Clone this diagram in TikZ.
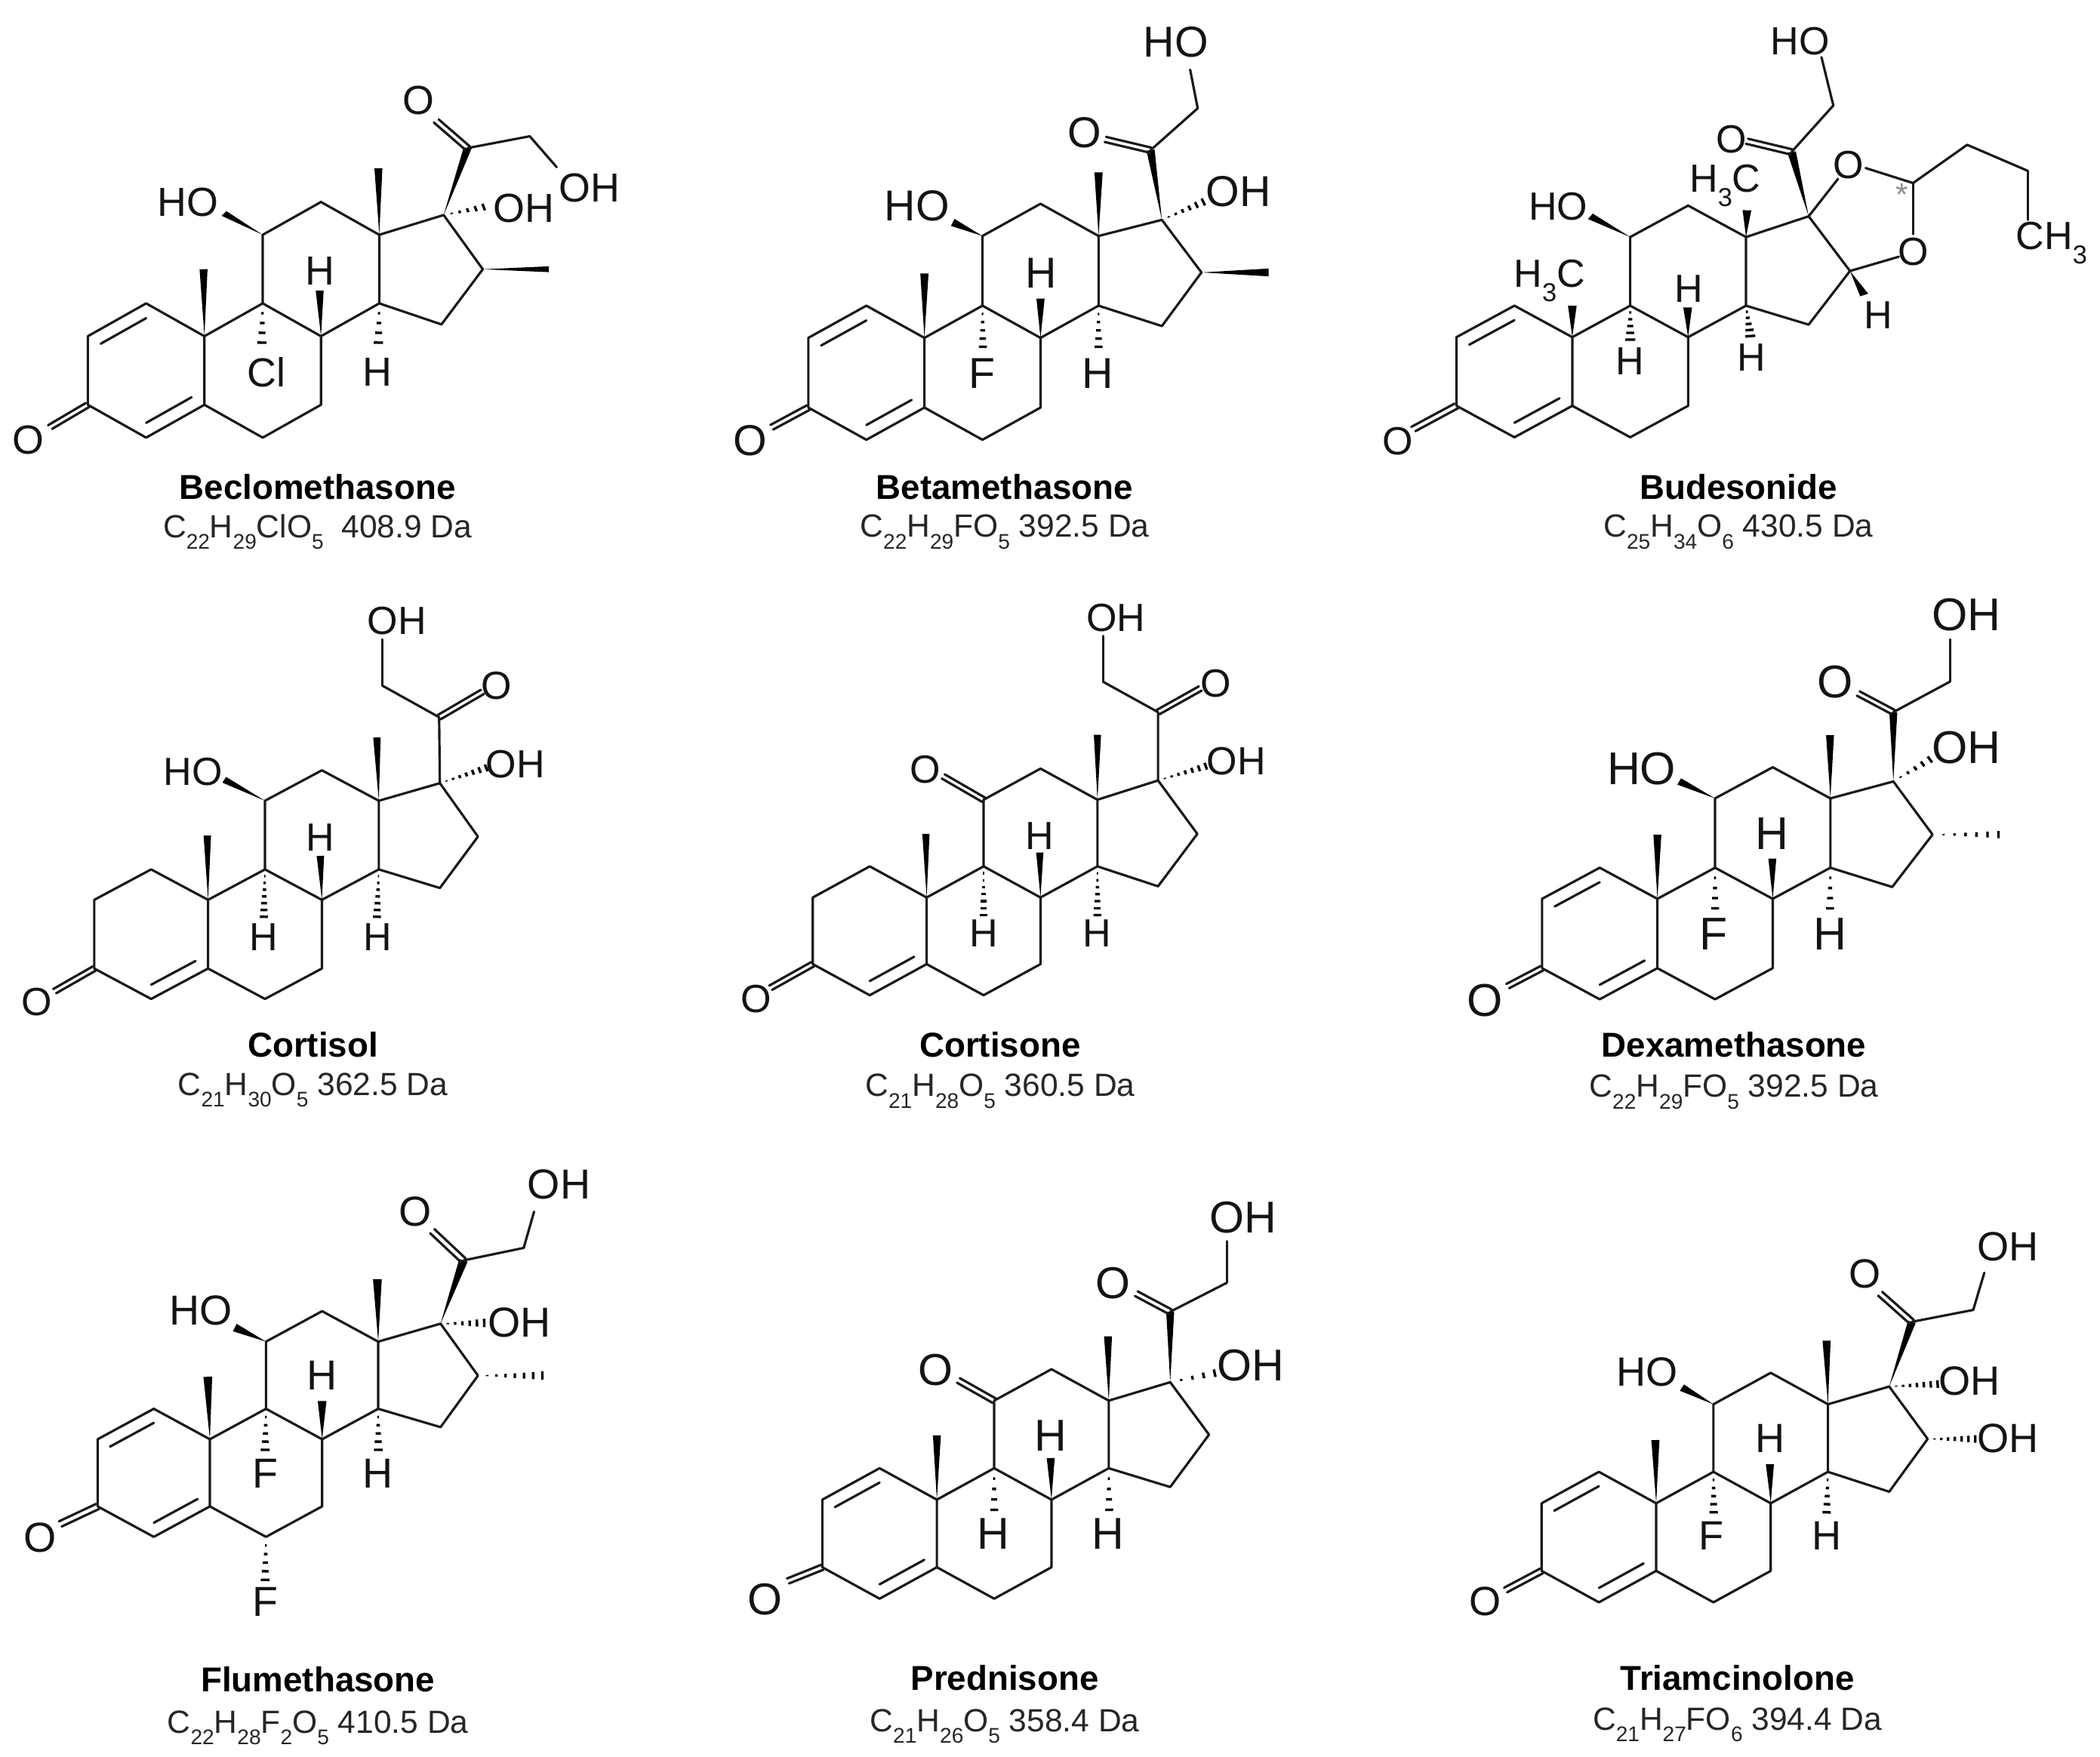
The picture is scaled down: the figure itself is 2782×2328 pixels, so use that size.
\documentclass[tikz,border=0pt]{standalone}
\usepackage{fontspec}
\setmainfont{Liberation Sans}
\usetikzlibrary{calc}
\def\lfs{15}
\def\wh{2.8pt}
\def\hw{3}
\newcommand\sbs[1]{\raisebox{-0.36em}{\scalebox{0.66}{#1}}}
\tikzset{
  mol/.style n args={4}{shift={(#1,#2)},xscale=#3/1562,yscale=#4/1562},
  bond/.style={line width=0.9pt,line join=round,line cap=round,draw=black!90},
  hashline/.style={line width=0.95pt,draw=black},
  atom/.style={inner sep=0pt,text=black!92,font=\fontsize{\lfs}{\lfs}\selectfont},
  title/.style={inner sep=0pt,yshift=1pt,text=black,font=\fontsize{13}{13}\selectfont\bfseries},
  formula/.style={inner sep=0pt,yshift=-1pt,text=black!85,font=\fontsize{12.1}{12.1}\selectfont},
}
\newcommand\lab[3]{\node[atom] (#1) at (#2) {#3};}
\newcommand\rings[5]{%
  \coordinate (C10) at (#1,#2);
  \coordinate (C5) at (#1,{#2+#4});
  \coordinate (C1) at ({#1-#3},{#2-#5});
  \coordinate (C2) at ({#1-2*#3},#2);
  \coordinate (C3) at ({#1-2*#3},{#2+#4});
  \coordinate (C4) at ({#1-#3},{#2+#4+#5});
  \coordinate (C6) at ({#1+#3},{#2+#4+#5});
  \coordinate (C7) at ({#1+2*#3},{#2+#4});
  \coordinate (C8) at ({#1+2*#3},#2);
  \coordinate (C9) at ({#1+#3},{#2-#5});
  \coordinate (C11) at ({#1+#3},{#2-#5-#4});
  \coordinate (C12) at ({#1+2*#3},{#2-2*#5-#4});
  \coordinate (C13) at ({#1+3*#3},{#2-#5-#4});
  \coordinate (C14) at ({#1+3*#3},{#2-#5});
  \coordinate (RA) at ({#1-#3},{#2+0.5*#4});
  \draw[bond] (C10)--(C1)--(C2)--(C3)--(C4)--(C5)--cycle;
  \draw[bond] (C5)--(C6)--(C7)--(C8)--(C9)--(C10);
  \draw[bond] (C9)--(C11)--(C12)--(C13)--(C14)--(C8);
  \draw[bond] ($(C4)!0.22!(RA)$)--($(C5)!0.22!(RA)$);
}
\newcommand\dienc{\draw[bond] ($(C2)!0.22!(RA)$)--($(C1)!0.22!(RA)$);}
\newcommand\dring[3]{%
  \coordinate (C15) at (#1);\coordinate (C16) at (#2);\coordinate (C17) at (#3);
  \draw[bond] (C14)--(C15)--(C16)--(C17)--(C13);
}
\newcommand\bnd[2]{\coordinate (bd) at (#2);\draw[bond] (#1)--(bd);}
\newcommand\wdg[2]{\coordinate (tip) at (#2);
  \fill[black] (#1)--($(tip)!\wh!90:(#1)$)--($(tip)!\wh!-90:(#1)$)--cycle;}
\newcommand\hsh[3]{\coordinate (hend) at (#2);
  \foreach \i in {1,...,#3}{
    \pgfmathsetmacro\hT{\i/#3}
    \pgfmathsetmacro\hW{\hw*\hT}
    \coordinate (hp) at ($(#1)!\hT!(hend)$);
    \draw[hashline] ($(hp)!\hW pt!90:(#1)$)--($(hp)!\hW pt!-90:(#1)$);
  }}
\newcommand\cdo[2]{\coordinate (oe) at (#2);
  \draw[bond] ($(#1)!2.1pt!90:(oe)$)--($(oe)!2.1pt!-90:(#1)$);
  \draw[bond] ($(#1)!2.1pt!-90:(oe)$)--($(oe)!2.1pt!90:(#1)$);}
\begin{document}
\begin{tikzpicture}[x=0.01cm,y=-0.01cm]
\useasboundingbox (0,0) rectangle (2782,2328);
% Beclomethasone
\begin{scope}[mol={0}{80}{900}{660}]
\def\lfs{15.3}\def\wh{2.6pt}
\rings{470}{865}{134}{215}{103}\dienc
\dring{1015,828}{1110,655}{1020,485}
\coordinate (C20) at (1075,275);\coordinate (C21) at (1218,238);
\wdg{C17}{C20}
\cdo{C20}{1003,190}
\draw[bond] (C20)--(C21);
\bnd{C21}{1280,335}
\hsh{C17}{1112,460}{5}
\wdg{C11}{515,480}\wdg{C13}{870,338}\wdg{C10}{468,655}\wdg{C16}{1262,655}\wdg{C8}{735,722}
\hsh{C9}{602,885}{4}\hsh{C14}{870,885}{4}
\cdo{C3}{115,1150}
\lab{o20}{962,125}{O}\lab{oh21}{1355,400}{OH}\lab{oh17}{1205,465}{OH}\lab{ho11}{432,445}{HO}
\lab{h8}{735,660}{H}\lab{cl9}{612,978}{Cl}\lab{h14}{868,978}{H}\lab{o3}{65,1190}{O}
\node[title] (n1) at (730,1345) {Beclomethasone};
\node[formula] (f1) at (730,1470) {C\sbs{22}H\sbs{29}ClO\sbs{5}\ \ 408.9 Da};
\end{scope}
% Betamethasone
\begin{scope}[mol={940}{0}{780}{740}]
\def\lfs{16.3}\def\wh{3.1pt}
\rings{570}{945}{154}{195}{90}\dienc
\dring{1200,912}{1305,762}{1200,615}
\coordinate (C20) at (1170,420);\coordinate (C21) at (1295,303);
\wdg{C17}{C20}
\cdo{C20}{1050,390}
\draw[bond] (C20)--(C21);
\bnd{C21}{1275,195}
\hsh{C17}{1310,565}{6}
\wdg{C11}{645,622}\wdg{C13}{1032,482}\wdg{C10}{570,765}\wdg{C16}{1483,762}\wdg{C8}{878,835}
\hsh{C9}{725,970}{5}\hsh{C14}{1032,970}{5}
\cdo{C3}{165,1195}
\lab{o20}{995,370}{O}\lab{ho21}{1237,118}{HO}\lab{oh17}{1403,535}{OH}\lab{ho11}{550,575}{HO}
\lab{h8}{880,763}{H}\lab{f9}{722,1045}{F}\lab{h14}{1030,1045}{H}\lab{o3}{108,1232}{O}
\node[title] (n2) at (783,1370) {Betamethasone};
\node[formula] (f2) at (783,1480) {C\sbs{22}H\sbs{29}FO\sbs{5} 392.5 Da};
\end{scope}
% Budesonide
\begin{scope}[mol={1800}{0}{982}{740}]
\def\lfs{14.8}\def\wh{2.6pt}
\rings{450}{943}{122}{192}{88}\dienc
\dring{948,908}{1035,758}{948,605}
\coordinate (C20) at (912,425);\coordinate (C21) at (1000,295);
\coordinate (Cq) at (1168,512);\coordinate (Cb) at (1282,405);\coordinate (Cc) at (1410,478);
\wdg{C17}{C20}
\cdo{C20}{818,395}
\draw[bond] (C20)--(C21);
\bnd{C21}{975,160}
\bnd{C17}{1010,500}
\bnd{Cq}{1068,470}
\bnd{Cq}{1168,655}
\coordinate (o16e) at (1138,718);\draw[bond] (C16)--(o16e);
\draw[bond] (Cq)--(Cb)--(Cc);
\bnd{Cc}{1410,615}
\wdg{C11}{488,605}\wdg{C13}{818,588}\wdg{C10}{450,855}\wdg{C8}{693,860}\wdg{C16}{1065,825}
\hsh{C9}{572,950}{5}\hsh{C14}{825,940}{5}
\cdo{C3}{115,1200}
\lab{o20}{785,390}{O}\lab{ho21}{930,115}{HO}\lab{o17}{1032,462}{O}\lab{o16}{1168,705}{O}
\lab{ch3}{1460,680}{CH\sbs{3}}\lab{ho11}{420,577}{HO}\lab{me13}{772,520}{H\sbs{3}C}\lab{me10}{402,785}{H\sbs{3}C}
\lab{h8}{695,808}{H}\lab{h9}{572,1010}{H}\lab{h14}{828,1000}{H}\lab{h16}{1095,882}{H}\lab{o3}{82,1235}{O}
\node[inner sep=0pt,text=black!45,font=\fontsize{12}{12}\selectfont] (star) at (1145,545) {*};
\node[title] (n3) at (800,1370) {Budesonide};
\node[formula] (f3) at (800,1480) {C\sbs{25}H\sbs{34}O\sbs{6} 430.5 Da};
\end{scope}
% Cortisol
\begin{scope}[mol={0}{780}{780}{700}]
\def\lfs{14.8}\def\wh{2.8pt}
\rings{552}{920}{151}{203}{90}
\dring{1167,885}{1268,733}{1167,575}
\coordinate (C20) at (1165,380);\coordinate (C21) at (1015,287);
\draw[bond] (C17)--(C20)--(C21);
\cdo{C20}{1280,305}
\bnd{C21}{1015,150}
\hsh{C17}{1290,530}{7}
\wdg{C11}{595,565}\wdg{C13}{1000,440}\wdg{C10}{550,730}\wdg{C8}{850,790}
\hsh{C9}{700,970}{7}\hsh{C14}{1000,970}{7}
\cdo{C3}{145,1190}
\lab{o20}{1317,288}{O}\lab{oh21}{1053,95}{OH}\lab{oh17}{1367,520}{OH}\lab{ho11}{512,542}{HO}
\lab{h8}{850,735}{H}\lab{h9}{700,1030}{H}\lab{h14}{1002,1030}{H}\lab{o3}{98,1222}{O}
\node[title] (n4) at (830,1355) {Cortisol};
\node[formula] (f4) at (830,1475) {C\sbs{21}H\sbs{30}O\sbs{5} 362.5 Da};
\end{scope}
% Cortisone
\begin{scope}[mol={960}{780}{760}{700}]
\def\lfs{14.8}\def\wh{2.8pt}
\rings{550}{913}{155}{197}{92}
\dring{1180,880}{1287,725}{1180,567}
\coordinate (C20) at (1180,365);\coordinate (C21) at (1030,275);
\draw[bond] (C17)--(C20)--(C21);
\cdo{C20}{1295,295}
\bnd{C21}{1030,140}
\hsh{C17}{1310,525}{7}
\wdg{C13}{1015,432}\wdg{C10}{548,725}\wdg{C8}{858,780}
\cdo{C11}{595,555}
\hsh{C9}{705,965}{7}\hsh{C14}{1015,965}{7}
\cdo{C3}{125,1180}
\lab{o20}{1337,280}{O}\lab{oh21}{1065,85}{OH}\lab{oh17}{1393,510}{OH}\lab{o11}{547,535}{O}
\lab{h8}{858,730}{H}\lab{h9}{705,1018}{H}\lab{h14}{1013,1018}{H}\lab{o3}{85,1212}{O}
\node[title] (n5) at (750,1355) {Cortisone};
\node[formula] (f5) at (750,1478) {C\sbs{21}H\sbs{28}O\sbs{5} 360.5 Da};
\end{scope}
% Dexamethasone
\begin{scope}[mol={1900}{780}{780}{700}]
\def\lfs{17.3}\def\wh{3pt}
\rings{592}{917}{153}{205}{92}\dienc
\dring{1215,882}{1322,727}{1218,570}
\coordinate (C20) at (1218,365);\coordinate (C21) at (1368,275);
\wdg{C17}{C20}
\cdo{C20}{1125,310}
\draw[bond] (C20)--(C21);
\bnd{C21}{1368,150}
\hsh{C17}{1315,505}{5}\hsh{C16}{1497,727}{6}
\wdg{C11}{650,570}\wdg{C13}{1050,433}\wdg{C10}{592,727}\wdg{C8}{897,798}
\hsh{C9}{745,945}{4}\hsh{C14}{1050,945}{4}
\cdo{C3}{195,1175}
\lab{o20}{1063,275}{O}\lab{oh21}{1412,78}{OH}\lab{oh17}{1412,470}{OH}\lab{ho11}{550,532}{HO}
\lab{h8}{897,725}{H}\lab{f9}{742,1022}{F}\lab{h14}{1050,1022}{H}\lab{o3}{135,1218}{O}
\node[title] (n6) at (795,1355) {Dexamethasone};
\node[formula] (f6) at (795,1480) {C\sbs{22}H\sbs{29}FO\sbs{5} 392.5 Da};
\end{scope}
% Flumethasone
\begin{scope}[mol={0}{1520}{860}{808}]
\def\lfs{15.8}\def\wh{3pt}
\rings{505}{748}{135}{172}{78}\dienc
\dring{1060,717}{1150,585}{1060,452}
\coordinate (C20) at (1115,290);\coordinate (C21) at (1260,258);
\wdg{C17}{C20}
\cdo{C20}{1040,215}
\draw[bond] (C20)--(C21);
\bnd{C21}{1285,165}
\hsh{C17}{1165,450}{6}\hsh{C16}{1305,585}{7}
\wdg{C11}{565,462}\wdg{C13}{908,338}\wdg{C10}{500,588}\wdg{C8}{775,650}
\hsh{C9}{638,775}{5}\hsh{C14}{910,775}{5}\hsh{C6}{638,1108}{5}
\cdo{C3}{145,965}
\lab{o20}{1000,165}{O}\lab{oh21}{1345,95}{OH}\lab{oh17}{1250,450}{OH}\lab{ho11}{483,418}{HO}
\lab{h8}{775,585}{H}\lab{f9}{638,835}{F}\lab{h14}{910,835}{H}\lab{f6}{638,1165}{F}\lab{o3}{97,1000}{O}
\node[title] (n7) at (765,1370) {Flumethasone};
\node[formula] (f7) at (765,1480) {C\sbs{22}H\sbs{28}F\sbs{2}O\sbs{5} 410.5 Da};
\end{scope}
% Prednisone
\begin{scope}[mol={960}{1580}{780}{748}]
\def\lfs{16.8}\def\wh{3pt}
\rings{563}{850}{152}{187}{87}\dienc
\dring{1182,815}{1285,670}{1182,525}
\coordinate (C20) at (1182,330);\coordinate (C21) at (1332,250);
\wdg{C17}{C20}
\cdo{C20}{1092,280}
\draw[bond] (C20)--(C21);
\bnd{C21}{1332,135}
\hsh{C17}{1300,500}{4}
\wdg{C13}{1017,398}\wdg{C10}{563,672}\wdg{C8}{865,735}
\cdo{C11}{620,520}
\hsh{C9}{715,878}{4}\hsh{C14}{1020,878}{4}
\cdo{C3}{168,1075}
\lab{o20}{1030,250}{O}\lab{oh21}{1375,70}{OH}\lab{oh17}{1395,478}{OH}\lab{o11}{560,492}{O}
\lab{h8}{865,672}{H}\lab{h9}{712,945}{H}\lab{h14}{1017,945}{H}\lab{o3}{107,1125}{O}
\node[title] (n8) at (743,1350) {Prednisone};
\node[formula] (f8) at (743,1470) {C\sbs{21}H\sbs{26}O\sbs{5} 358.4 Da};
\end{scope}
% Triamcinolone
\begin{scope}[mol={1900}{1580}{820}{748}]
\def\lfs{15.4}\def\wh{2.9pt}
\rings{560}{860}{144.5}{187}{87}\dienc
\dring{1148,828}{1245,682}{1148,537}
\coordinate (C20) at (1205,358);\coordinate (C21) at (1360,325);
\wdg{C17}{C20}
\cdo{C20}{1125,280}
\draw[bond] (C20)--(C21);
\bnd{C21}{1388,222}
\hsh{C17}{1270,530}{7}\hsh{C16}{1365,682}{7}
\wdg{C11}{625,540}\wdg{C13}{990,410}\wdg{C10}{558,685}\wdg{C8}{847,752}
\hsh{C9}{705,885}{5}\hsh{C14}{990,885}{5}
\cdo{C3}{180,1100}
\lab{o20}{1087,225}{O}\lab{oh21}{1447,150}{OH}\lab{oh17}{1350,522}{OH}\lab{oh16}{1447,680}{OH}\lab{ho11}{537,497}{HO}
\lab{h8}{847,680}{H}\lab{f9}{700,950}{F}\lab{h14}{990,950}{H}\lab{o3}{128,1132}{O}
\node[title] (n9) at (765,1350) {Triamcinolone};
\node[formula] (f9) at (765,1465) {C\sbs{21}H\sbs{27}FO\sbs{6} 394.4 Da};
\end{scope}
\end{tikzpicture}
\end{document}
